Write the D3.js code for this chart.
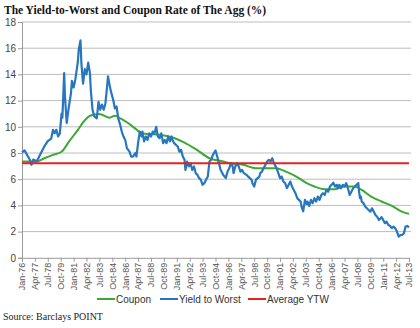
<!DOCTYPE html>
<html><head><meta charset="utf-8">
<script src="https://cdn.jsdelivr.net/npm/d3@7"></script>
<style>body{margin:0;background:#fff;} svg{display:block;}</style>
</head><body>
<script>
const title = "The Yield-to-Worst and Coupon Rate of The Agg (%)";
const source = "Source: Barclays POINT";
const tickLabels = ["Jan-76","Apr-77","Jul-78","Oct-79","Jan-81","Apr-82","Jul-83","Oct-84","Jan-86","Apr-87","Jul-88","Oct-89","Jan-91","Apr-92","Jul-93","Oct-94","Jan-96","Apr-97","Jul-98","Oct-99","Jan-01","Apr-02","Jul-03","Oct-04","Jan-06","Apr-07","Jul-08","Oct-09","Jan-11","Apr-12","Jul-13"];
const yTicks = [0,2,4,6,8,10,12,14,16,18];
const seriesNames = ["Coupon","Yield to Worst","Average YTW"];
const averageYTW = 7.22;

const ytwDates = ["1976-01","1976-04","1976-07","1976-10","1976-12","1977-02","1977-06","1977-08","1977-11","1978-03","1978-07","1978-11","1979-01","1979-03","1979-05","1979-07","1979-09","1979-11","1979-12","1980-02","1980-03","1980-05","1980-07","1980-10","1980-11","1981-01","1981-03","1981-05","1981-06","1981-07","1981-09","1981-10","1981-12","1982-02","1982-04","1982-06","1982-08","1982-09","1982-11","1983-01","1983-04","1983-06","1983-08","1983-10","1983-12","1984-02","1984-04","1984-05","1984-08","1984-11","1985-01","1985-03","1985-05","1985-07","1985-09","1985-11","1986-01","1986-03","1986-06","1986-08","1986-10","1987-01","1987-02","1987-04","1987-06","1987-08","1987-09","1987-11","1988-01","1988-03","1988-05","1988-07","1988-09","1988-11","1989-01","1989-03","1989-05","1989-07","1989-09","1989-11","1990-01","1990-03","1990-05","1990-07","1990-08","1990-10","1991-02","1991-04","1991-06","1991-08","1991-10","1991-11","1992-01","1992-03","1992-05","1992-07","1992-09","1992-11","1993-01","1993-03","1993-05","1993-07","1993-09","1993-11","1994-01","1994-03","1994-05","1994-07","1994-10","1994-12","1995-02","1995-04","1995-05","1995-07","1995-10","1995-12","1996-02","1996-04","1996-06","1996-07","1996-09","1996-11","1997-01","1997-03","1997-05","1997-07","1997-10","1997-12","1998-02","1998-04","1998-05","1998-07","1998-09","1998-11","1999-01","1999-02","1999-04","1999-06","1999-08","1999-10","1999-12","2000-02","2000-04","2000-06","2000-08","2000-09","2000-11","2001-01","2001-03","2001-05","2001-07","2001-09","2001-11","2002-01","2002-03","2002-05","2002-07","2002-09","2002-11","2003-01","2003-02","2003-04","2003-06","2003-08","2003-09","2003-11","2004-01","2004-03","2004-05","2004-07","2004-09","2004-11","2005-01","2005-03","2005-05","2005-07","2005-09","2005-11","2006-01","2006-03","2006-05","2006-07","2006-08","2006-10","2006-12","2007-02","2007-04","2007-06","2007-08","2007-10","2007-12","2008-02","2008-04","2008-06","2008-08","2008-09","2008-10","2008-11","2008-12","2009-02","2009-04","2009-06","2009-08","2009-10","2009-12","2010-02","2010-04","2010-06","2010-08","2010-10","2010-11","2011-01","2011-03","2011-05","2011-07","2011-09","2011-11","2012-01","2012-03","2012-05","2012-07","2012-09","2012-11","2013-01","2013-03","2013-05","2013-07"];
const ytwValues = [8.04,8.2,7.85,7.5,7.1,7.5,7.35,7.6,8.0,8.5,8.9,9.1,9.77,9.5,9.77,9.26,9.5,11.0,10.7,14.1,12.3,10.3,11.3,12.6,13.5,13.0,13.6,14.5,15.0,15.9,16.6,14.9,13.3,14.4,14.0,14.9,14.1,12.8,11.3,10.8,10.65,11.9,11.3,11.7,11.3,11.8,13.1,13.85,12.8,12.06,11.4,11.55,10.6,10.2,9.64,9.26,9.0,8.37,8.1,7.73,7.73,8.0,7.73,8.75,9.64,9.26,9.64,8.88,9.26,9.0,9.5,9.26,9.64,9.5,10.0,9.26,9.13,9.5,8.75,9.0,8.75,9.26,8.88,9.26,9.0,8.75,8.5,8.1,8.24,7.73,7.48,6.7,7.35,6.97,7.22,6.7,6.97,6.46,6.33,6.08,5.95,5.57,5.7,5.95,6.2,7.35,7.48,7.86,8.19,7.73,7.22,6.71,6.58,6.33,6.08,6.58,6.84,7.22,6.97,6.46,6.97,7.22,6.97,6.58,6.71,6.46,6.33,6.2,6.08,5.95,5.7,5.44,5.95,6.08,6.2,6.46,6.58,6.84,7.1,7.35,7.48,7.35,7.6,7.22,6.97,6.84,6.46,6.08,6.2,5.82,5.7,5.31,5.57,5.82,5.44,5.18,4.93,4.55,4.42,4.29,3.91,3.55,4.42,4.1,4.29,3.95,4.42,4.17,4.55,4.29,4.67,4.42,4.8,4.93,4.8,5.18,5.05,5.44,5.57,5.74,5.44,5.57,5.31,5.57,5.31,5.57,5.44,5.7,5.31,4.8,5.05,5.31,5.44,5.57,5.7,5.0,4.55,4.67,4.29,4.17,3.91,3.78,3.65,3.52,3.78,3.52,3.27,3.14,2.89,3.02,3.1,2.89,2.64,2.76,2.51,2.43,2.26,2.38,2.26,2.0,1.61,1.74,1.74,1.87,2.38,2.43,2.33];

const couponDates = ["1976-01","1977-06","1978-03","1979-01","1979-11","1980-08","1981-06","1982-02","1982-08","1983-07","1984-07","1985-01","1985-07","1986-03","1986-12","1987-06","1988-02","1989-05","1990-10","1991-10","1992-11","1994-03","1995-07","1996-02","1997-06","1998-09","2000-08","2001-08","2002-08","2003-08","2004-05","2005-05","2006-05","2007-04","2008-04","2008-12","2009-11","2010-11","2011-10","2012-10","2013-07"];
const couponValues = [7.35,7.35,7.6,7.86,8.1,8.9,9.77,10.5,10.84,10.97,10.7,10.85,10.65,10.35,9.9,9.6,9.45,9.4,9.15,8.8,8.3,7.6,7.35,7.22,7.1,6.84,6.84,6.58,6.2,5.7,5.44,5.24,5.24,5.45,5.45,5.18,4.67,4.3,4.0,3.55,3.35];

const colors = {coupon:"#3aa935", ytw:"#2677bf", avg:"#e3231e"};

const W = 420, H = 328;
const svg = d3.select("body").append("svg").attr("width", W).attr("height", H);
const parseM = d3.timeParse("%Y-%m");
const parseT = d3.timeParse("%b-%y");
const mLeft = 22, mRight = 409, mTop = 22, mBottom = 257.8;

const x = d3.scaleTime().domain([parseM("1976-01"), parseM("2013-07")]).range([mLeft, mRight]);
const y = d3.scaleLinear().domain([0, 18]).range([mBottom, mTop]);

// title
svg.append("text").attr("x", 4).attr("y", 14)
  .attr("font-family", "'Liberation Serif', 'Times New Roman', serif")
  .attr("font-weight", "bold").attr("font-size", 11.5).attr("fill", "#111")
  .text(title);

// gridlines
svg.append("g").selectAll("line").data(yTicks.filter(d => d > 0)).join("line")
  .attr("x1", mLeft).attr("x2", mRight + 2)
  .attr("y1", d => y(d)).attr("y2", d => y(d))
  .attr("stroke", "#bdbdbd").attr("stroke-width", 1);

// y axis
const yAxis = d3.axisLeft(y).tickValues(yTicks).tickSize(4).tickFormat(d3.format("d"));
const gy = svg.append("g").attr("transform", `translate(${mLeft},0)`).call(yAxis);
gy.select(".domain").attr("stroke", "#9a9a9a");
gy.selectAll(".tick line").attr("stroke", "#9a9a9a");
gy.selectAll(".tick text").attr("font-family", "'Liberation Sans', Arial, sans-serif")
  .attr("font-size", 10).attr("fill", "#444").attr("x", -6);

// x axis
const xTickDates = tickLabels.map(parseT);
const xAxis = d3.axisBottom(x).tickValues(xTickDates).tickSize(4).tickFormat(d3.timeFormat("%b-%y"));
const gx = svg.append("g").attr("transform", `translate(0,${mBottom})`).call(xAxis);
gx.select(".domain").attr("stroke", "#9a9a9a");
gx.selectAll(".tick line").attr("stroke", "#9a9a9a");
gx.selectAll(".tick text")
  .attr("font-family", "'Liberation Sans', Arial, sans-serif")
  .attr("font-size", 9).attr("fill", "#555")
  .attr("text-anchor", "end")
  .attr("transform", "rotate(-90)")
  .attr("x", -5).attr("y", 0).attr("dy", "0.32em");

// lines
const line = d3.line().x(d => x(d[0])).y(d => y(d[1]));
const couponData = couponDates.map((d, i) => [parseM(d), couponValues[i]]);
const ytwData = ytwDates.map((d, i) => [parseM(d), ytwValues[i]]);

svg.append("path").datum(couponData)
  .attr("d", d3.line().x(d => x(d[0])).y(d => y(d[1])).curve(d3.curveMonotoneX))
  .attr("fill", "none").attr("stroke", colors.coupon).attr("stroke-width", 2);
svg.append("path").datum(ytwData).attr("d", line)
  .attr("fill", "none").attr("stroke", colors.ytw).attr("stroke-width", 2.2).attr("stroke-linejoin", "round");
svg.append("line")
  .attr("x1", x(parseM("1976-01"))).attr("x2", x(parseM("2013-07")))
  .attr("y1", y(averageYTW)).attr("y2", y(averageYTW))
  .attr("stroke", colors.avg).attr("stroke-width", 2);

// legend
const legendItems = [
  {name: seriesNames[0], color: colors.coupon, x: 97},
  {name: seriesNames[1], color: colors.ytw, x: 160},
  {name: seriesNames[2], color: colors.avg, x: 248}
];
const lg = svg.append("g").attr("transform", "translate(0,299)");
legendItems.forEach(it => {
  lg.append("line").attr("x1", it.x).attr("x2", it.x + 18).attr("y1", 0).attr("y2", 0)
    .attr("stroke", it.color).attr("stroke-width", 2);
  lg.append("text").attr("x", it.x + 19).attr("y", 0).attr("dy", "0.35em")
    .attr("font-family", "'Liberation Sans', Arial, sans-serif").attr("font-size", 10).attr("fill", "#333")
    .text(it.name);
});

svg.append("text").attr("x", 3).attr("y", 320)
  .attr("font-family", "'Liberation Serif', 'Times New Roman', serif")
  .attr("font-size", 10).attr("fill", "#222").text(source);
</script>
</body></html>
